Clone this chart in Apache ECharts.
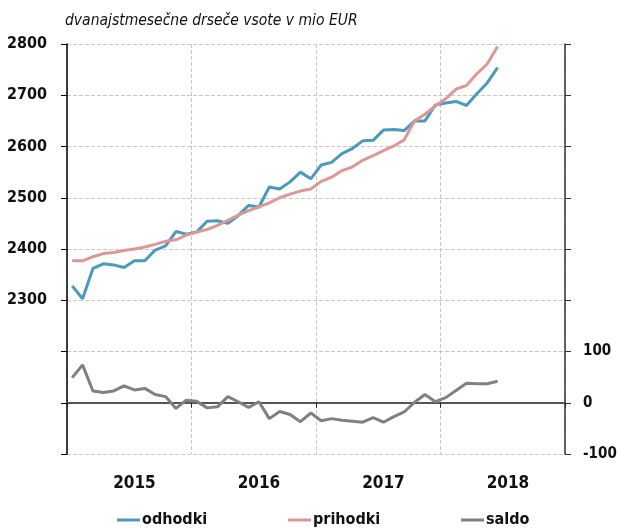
<!DOCTYPE html>
<html>
<head>
<meta charset="utf-8">
<script src="https://cdn.jsdelivr.net/npm/echarts@6/dist/echarts.min.js"></script>
<style>
html,body{margin:0;padding:0;background:#fff}
#main{width:619px;height:528px}
</style>
</head>
<body>
<div id="main"></div>
<script>
/* podatki: jan 2015 - jun 2018 */
var years = ['2015', '2016', '2017', '2018'];
var odhodki = [2328, 2303, 2362, 2371, 2369, 2364, 2377, 2377, 2398, 2406, 2434, 2429,
               2433, 2454, 2455, 2450, 2465, 2485, 2482, 2521, 2517, 2531, 2550, 2537,
               2564, 2569, 2586, 2596, 2611, 2612, 2632, 2633, 2631, 2650, 2650, 2681,
               2685, 2688, 2680, 2703, 2724, 2754];
var prihodki = [2377, 2377, 2385, 2391, 2393, 2397, 2400, 2404, 2409, 2415, 2418, 2427,
                2433, 2438, 2446, 2456, 2466, 2475, 2482, 2490, 2500, 2507, 2513, 2517,
                2532, 2540, 2553, 2560, 2573, 2582, 2592, 2601, 2613, 2650, 2663, 2679,
                2693, 2712, 2719, 2742, 2761, 2795];
var saldo = [49, 74, 23, 20, 23, 33, 25, 28, 16, 12, -11, 5,
             3, -10, -8, 12, 2, -9, 2, -31, -17, -23, -37, -20,
             -35, -31, -34, -36, -38, -29, -38, -27, -18, 1, 16, 2,
             10, 24, 38, 37, 37, 42];

var months = [];
for (var y = 0; y < years.length; y++) {
    for (var m = 1; m <= 12; m++) {
        months.push(years[y] + '-' + (m < 10 ? '0' + m : m));
    }
}

var FONT = '"DejaVu Sans Condensed", "Liberation Sans Narrow", "Liberation Sans", sans-serif';

var labelStyle = {
    fontFamily: FONT,
    fontSize: 16,
    fontWeight: 'bold',
    color: '#111'
};

function legendItem(name, left) {
    return {
        data: [name],
        left: left,
        top: 507,
        icon: 'rect',
        itemWidth: 23,
        itemHeight: 3,
        itemGap: 0,
        textStyle: {
            fontFamily: FONT,
            fontSize: 16,
            fontWeight: 'bold',
            color: '#111',
            padding: [0, 0, 0, -3]
        }
    };
}

var chart = echarts.init(document.getElementById('main'));
var option = {
    animation: false,
    title: {
        text: 'dvanajstmesečne drseče vsote v mio EUR',
        left: 60,
        top: 8,
        textStyle: {
            fontFamily: FONT,
            fontStyle: 'italic',
            fontWeight: 'normal',
            fontSize: 15.5,
            color: '#111'
        }
    },
    legend: [
        legendItem('odhodki', 112),
        legendItem('prihodki', 283),
        legendItem('saldo', 456)
    ],
    grid: {
        left: 67,
        right: 54,
        top: 44,
        bottom: 74,
        outerBoundsMode: 'none'
    },
    xAxis: [
        {
            type: 'category',
            data: months,
            boundaryGap: true,
            position: 'bottom',
            axisLine: { show: false, onZero: false },
            axisTick: { show: false },
            axisLabel: Object.assign({
                interval: function (idx) { return idx % 12 === 6; },
                formatter: function (v) { return v.slice(0, 4); },
                margin: 21
            }, labelStyle, { fontSize: 17 }),
            splitLine: {
                show: true,
                interval: function (idx) { return idx % 12 === 0; },
                lineStyle: { color: '#c8c8c8', type: 'dashed', width: 1 }
            }
        },
        {
            type: 'category',
            data: months,
            boundaryGap: true,
            position: 'bottom',
            axisLine: {
                show: true,
                onZero: true,
                onZeroAxisIndex: 1,
                lineStyle: { color: '#555', width: 2 }
            },
            axisTick: {
                show: true,
                interval: function (idx) { return idx % 12 === 0; },
                length: 5,
                lineStyle: { color: '#222', width: 1 }
            },
            axisLabel: { show: false },
            splitLine: { show: false }
        }
    ],
    yAxis: [
        {
            type: 'value',
            min: 2000,
            max: 2800,
            interval: 100,
            position: 'left',
            axisLine: { show: true, lineStyle: { color: '#000', width: 1.5 } },
            axisTick: { show: true, length: 6, lineStyle: { color: '#000' } },
            axisLabel: Object.assign({
                margin: 20,
                formatter: function (v) { return v >= 2300 ? v : ''; }
            }, labelStyle),
            splitLine: { show: true, lineStyle: { color: '#c8c8c8', type: 'dashed', width: 1 } }
        },
        {
            type: 'value',
            min: -100,
            max: 700,
            interval: 100,
            position: 'right',
            axisLine: { show: true, lineStyle: { color: '#333', width: 1.5 } },
            axisTick: { show: true, length: 6, lineStyle: { color: '#333' } },
            axisLabel: Object.assign({
                margin: 18,
                formatter: function (v) { return v <= 100 ? v : ''; }
            }, labelStyle, { fontSize: 15 }),
            splitLine: { show: false }
        }
    ],
    series: [
        {
            name: 'odhodki',
            type: 'line',
            xAxisIndex: 0,
            yAxisIndex: 0,
            data: odhodki,
            symbol: 'none',
            itemStyle: { color: '#4b9abb' },
            lineStyle: { color: '#4b9abb', width: 3 }
        },
        {
            name: 'prihodki',
            type: 'line',
            xAxisIndex: 0,
            yAxisIndex: 0,
            data: prihodki,
            symbol: 'none',
            itemStyle: { color: '#dc9896' },
            lineStyle: { color: '#dc9896', width: 3 }
        },
        {
            name: 'saldo',
            type: 'line',
            xAxisIndex: 0,
            yAxisIndex: 1,
            data: saldo,
            symbol: 'none',
            itemStyle: { color: '#808080' },
            lineStyle: { color: '#808080', width: 3 }
        }
    ]
};
chart.setOption(option);
</script>
</body>
</html>
